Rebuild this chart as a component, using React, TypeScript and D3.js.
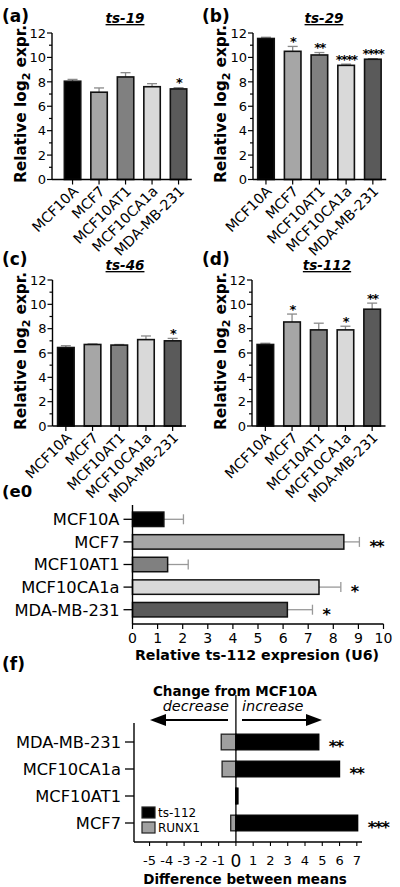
import React from "react";
import * as d3 from "d3";

// ---------- data ----------
const categories = ["MCF10A", "MCF7", "MCF10AT1", "MCF10CA1a", "MDA-MB-231"];
const barColors = ["#000000", "#a6a6a6", "#808080", "#d9d9d9", "#5a5a5a"];

const ts19Values = [8.05, 7.15, 8.4, 7.6, 7.42];
const ts19Err = [0.15, 0.35, 0.35, 0.25, 0.1];
const ts19Stars = ["", "", "", "", "*"];

const ts29Values = [11.55, 10.5, 10.2, 9.35, 9.85];
const ts29Err = [0.1, 0.4, 0.2, 0.1, 0.05];
const ts29Stars = ["", "*", "**", "****", "****"];

const ts46Values = [6.45, 6.7, 6.65, 7.1, 7.0];
const ts46Err = [0.15, 0.05, 0.05, 0.3, 0.2];
const ts46Stars = ["", "", "", "", "*"];

const ts112Values = [6.7, 8.55, 7.9, 7.9, 9.6];
const ts112Err = [0.1, 0.65, 0.55, 0.3, 0.5];
const ts112Stars = ["", "*", "", "*", "**"];

const yTicks = [0, 2, 4, 6, 8, 10, 12];

const e0Values = [1.25, 8.42, 1.4, 7.43, 6.17];
const e0Err = [0.78, 0.62, 0.82, 0.87, 1.0];
const e0Stars = ["", "**", "", "*", "*"];
const e0Ticks = [0, 1, 2, 3, 4, 5, 6, 7, 8, 9, 10];

const fCategories = ["MDA-MB-231", "MCF10CA1a", "MCF10AT1", "MCF7"];
const fTs112 = [4.8, 6.0, 0.12, 7.05];
const fRunx1 = [-0.85, -0.8, 0.05, -0.3];
const fStars = ["**", "**", "", "***"];
const fTicks = [-5, -4, -3, -2, -1, 0, 1, 2, 3, 4, 5, 6, 7];
const fLegend = ["ts-112", "RUNX1"];
const fColors = ["#000000", "#a0a0a0"];

// ---------- helpers ----------
const FONT = "'DejaVu Sans', 'Liberation Sans', Arial, sans-serif";

function T({ x, y, rot = 0, children, ...rest }: any) {
  const tr = `translate(${x},${y})` + (rot ? ` rotate(${rot})` : "");
  return (
    <text transform={tr} fontFamily={FONT} {...rest}>
      {children}
    </text>
  );
}

function VPanel({ letter, letterX, letterY, title, titleX, titleY, values, errs, stars, axisX, bandRange, yRange, ylabX, ylabY }: any) {
  const x = d3.scaleBand().domain(categories).range(bandRange).paddingInner(0.38).paddingOuter(0.19);
  const y = d3.scaleLinear().domain([0, 12]).range(yRange);
  const axisY = y(0);
  const bw = x.bandwidth();
  const minor = d3.range(0, 13);
  return (
    <g>
      <T x={letterX} y={letterY} fontSize={17} fontWeight="bold">{letter}</T>
      <T x={titleX} y={titleY} fontSize={13.5} fontWeight="bold" fontStyle="italic" textAnchor="middle" textDecoration="underline">{title}</T>
      <T x={ylabX} y={ylabY} rot={-90} fontSize={15.3} fontWeight="bold" textAnchor="middle">
        <tspan>Relative log</tspan>
        <tspan dy={4} fontSize={11}>2</tspan>
        <tspan dy={-4}> expr.</tspan>
      </T>
      {categories.map((c, i) => {
        const cx = (x(c) as number) + bw / 2;
        const top = y(values[i]);
        const et = y(values[i] + errs[i]);
        return (
          <g key={c}>
            <line x1={cx} x2={cx} y1={top} y2={et} stroke="#8a8a8a" strokeWidth={1.3} />
            <line x1={cx - 5} x2={cx + 5} y1={et} y2={et} stroke="#8a8a8a" strokeWidth={1.3} />
            <rect x={x(c)} y={top} width={bw} height={axisY - top} fill={barColors[i]} stroke="#111" strokeWidth={1.6} />
            {stars[i] && (
              <T x={cx} y={et - 0.5} fontSize={13} fontWeight="bold" letterSpacing={-1.6} textAnchor="middle">{stars[i]}</T>
            )}
          </g>
        );
      })}
      <line x1={axisX} x2={axisX} y1={y(12)} y2={axisY} stroke="#000" strokeWidth={1.4} />
      <line x1={axisX} x2={bandRange[1]} y1={axisY} y2={axisY} stroke="#000" strokeWidth={1.4} />
      {minor.map((v) => (
        <line key={v} x1={axisX - (v % 2 === 0 ? 5 : 3)} x2={axisX} y1={y(v)} y2={y(v)} stroke="#000" strokeWidth={1.2} />
      ))}
      {yTicks.map((v) => (
        <T key={v} x={axisX - 6} y={y(v)} dy="0.36em" fontSize={13} textAnchor="end">{v}</T>
      ))}
      {categories.map((c) => {
        const cx = (x(c) as number) + bw / 2;
        return (
          <g key={c}>
            <line x1={cx} x2={cx} y1={axisY} y2={axisY + 5} stroke="#000" strokeWidth={1.2} />
            <T x={cx + 3} y={axisY + 9} rot={-45} fontSize={14.2} textAnchor="end" dy="0.35em">{c}</T>
          </g>
        );
      })}
    </g>
  );
}

function E0Panel() {
  const x = d3.scaleLinear().domain([0, 10]).range([132.5, 383.5]);
  const y = d3.scaleBand().domain(categories).range([508, 621]).paddingInner(0.36).paddingOuter(0.18);
  const bh = y.bandwidth();
  const axisY = 624;
  return (
    <g>
      <T x={2} y={497} fontSize={16.5} fontWeight="bold">(e0</T>
      {categories.map((c, i) => {
        const cy = (y(c) as number) + bh / 2;
        const xe = x(e0Values[i] + e0Err[i]);
        return (
          <g key={c}>
            <line x1={x(e0Values[i])} x2={xe} y1={cy} y2={cy} stroke="#999" strokeWidth={1.3} />
            <line x1={xe} x2={xe} y1={cy - 5} y2={cy + 5} stroke="#999" strokeWidth={1.3} />
            <rect x={x(0)} y={y(c)} width={x(e0Values[i]) - x(0)} height={bh} fill={barColors[i]} stroke="#111" strokeWidth={1.5} />
            {e0Stars[i] && (
              <T x={xe + 10} y={cy + 10} fontSize={16} fontWeight="bold" letterSpacing={-1.5}>{e0Stars[i]}</T>
            )}
            <line x1={x(0) - 9} x2={x(0)} y1={cy} y2={cy} stroke="#000" strokeWidth={1.3} />
            <T x={x(0) - 13} y={cy} dy="0.36em" fontSize={16.3} textAnchor="end">{c}</T>
          </g>
        );
      })}
      <line x1={x(0)} x2={x(0)} y1={505} y2={axisY} stroke="#000" strokeWidth={1.4} />
      <line x1={x(0)} x2={x(10)} y1={axisY} y2={axisY} stroke="#000" strokeWidth={1.4} />
      {e0Ticks.map((v) => (
        <g key={v}>
          <line x1={x(v)} x2={x(v)} y1={axisY} y2={axisY + 5} stroke="#000" strokeWidth={1.2} />
          <T x={x(v)} y={643} fontSize={14} textAnchor="middle">{v}</T>
        </g>
      ))}
      <T x={257} y={660} fontSize={14.2} fontWeight="bold" textAnchor="middle">Relative ts-112 expresion (U6)</T>
    </g>
  );
}

function FPanel() {
  const x = d3.scaleLinear().domain([-5.9, 7.3]).range([134, 362]);
  const y = d3.scaleBand().domain(fCategories).range([728.5, 836.5]).paddingInner(0.42).paddingOuter(0.21);
  const bh = y.bandwidth();
  const axisY = 842;
  const x0 = x(0);
  const ay = 720;
  return (
    <g>
      <T x={2} y={670} fontSize={17} fontWeight="bold">(f)</T>
      <T x={235} y={696} fontSize={13.5} fontWeight="bold" textAnchor="middle">Change from MCF10A</T>
      <T x={229} y={711} fontSize={14.5} fontStyle="italic" textAnchor="end">decrease</T>
      <T x={242} y={711} fontSize={14.5} fontStyle="italic" textAnchor="start">increase</T>
      <line x1={228} x2={163} y1={ay} y2={ay} stroke="#000" strokeWidth={1.8} />
      <path d={`M150,${ay} L166,${ay - 6} L166,${ay + 6} Z`} fill="#000" />
      <line x1={242} x2={309} y1={ay} y2={ay} stroke="#000" strokeWidth={1.8} />
      <path d={`M322,${ay} L306,${ay - 6} L306,${ay + 6} Z`} fill="#000" />
      {fCategories.map((c, i) => {
        const top = y(c) as number;
        const cy = top + bh / 2;
        const r = fRunx1[i];
        const t = fTs112[i];
        return (
          <g key={c}>
            <rect x={Math.min(x(r), x0)} y={top} width={Math.abs(x(r) - x0)} height={bh} fill={fColors[1]} stroke="#222" strokeWidth={1.3} />
            <rect x={Math.min(x(t), x0)} y={top} width={Math.abs(x(t) - x0)} height={bh} fill={fColors[0]} stroke="#000" strokeWidth={1.3} />
            {fStars[i] && <T x={x(t) + 10} y={cy + 10} fontSize={16} fontWeight="bold" letterSpacing={-1.5}>{fStars[i]}</T>}
            <line x1={x(-5.9) - 9} x2={x(-5.9)} y1={cy} y2={cy} stroke="#000" strokeWidth={1.3} />
            <T x={x(-5.9) - 13} y={cy} dy="0.36em" fontSize={16.3} textAnchor="end">{c}</T>
          </g>
        );
      })}
      <line x1={x0} x2={x0} y1={695} y2={axisY} stroke="#000" strokeWidth={1.3} />
      <line x1={x(-5.9)} x2={x(-5.9)} y1={723} y2={axisY} stroke="#000" strokeWidth={1.4} />
      <line x1={x(-5.9)} x2={x(7.3)} y1={axisY} y2={axisY} stroke="#000" strokeWidth={1.4} />
      {fTicks.map((v) => (
        <g key={v}>
          <line x1={x(v)} x2={x(v)} y1={axisY} y2={axisY + 4} stroke="#000" strokeWidth={1.1} />
          <T x={x(v)} y={v === 0 ? 867 : 865} fontSize={v === 0 ? 17 : 13} textAnchor="middle">{v}</T>
        </g>
      ))}
      {fLegend.map((l, i) => (
        <g key={l}>
          <rect x={142} y={807 + i * 15} width={13} height={11} fill={fColors[i]} stroke="#222" strokeWidth={1.2} />
          <T x={158} y={817 + i * 15} fontSize={12}>{l}</T>
        </g>
      ))}
      <T x={245} y={884} fontSize={13.5} fontWeight="bold" textAnchor="middle">Difference between means</T>
    </g>
  );
}

export default function App() {
  return (
    <svg width={400} height={887} style={{ position: "absolute", left: 0, top: 0, background: "#fff" }}>
      <rect width={400} height={887} fill="#fff" />
      <VPanel letter="(a)" letterX={2} letterY={22} title="ts-19" titleX={125} titleY={23}
        values={ts19Values} errs={ts19Err} stars={ts19Stars}
        axisX={52} bandRange={[59.3, 191.8]} yRange={[179.5, 33]} ylabX={26} ylabY={104} />
      <VPanel letter="(b)" letterX={202} letterY={22} title="ts-29" titleX={324} titleY={23}
        values={ts29Values} errs={ts29Err} stars={ts29Stars}
        axisX={253} bandRange={[252.6, 386.2]} yRange={[179.5, 33]} ylabX={226} ylabY={104} />
      <VPanel letter="(c)" letterX={2} letterY={265} title="ts-46" titleX={125} titleY={270}
        values={ts46Values} errs={ts46Err} stars={ts46Stars}
        axisX={52.5} bandRange={[52.5, 186]} yRange={[426, 280]} ylabX={26} ylabY={351} />
      <VPanel letter="(d)" letterX={202} letterY={265} title="ts-112" titleX={327} titleY={270}
        values={ts112Values} errs={ts112Err} stars={ts112Stars}
        axisX={252} bandRange={[252, 385.5]} yRange={[426, 280]} ylabX={226} ylabY={351} />
      <E0Panel />
      <FPanel />
    </svg>
  );
}
